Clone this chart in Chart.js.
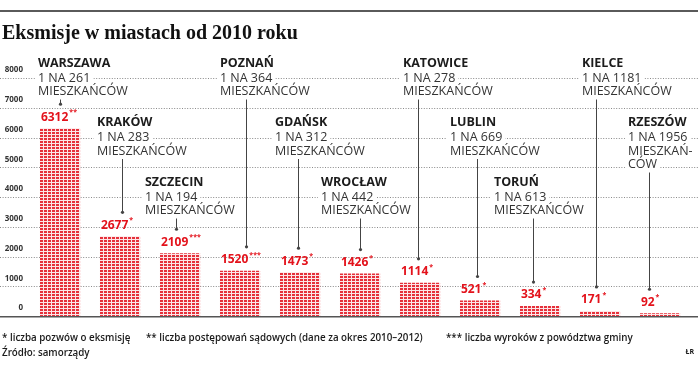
<!DOCTYPE html>
<html>
<head>
<meta charset="utf-8">
<script src="https://cdn.jsdelivr.net/npm/chart.js@4"></script>
<style>
  body { margin: 0; background: #fff; }
  canvas { display: block; }
</style>
</head>
<body>
<canvas id="evictions" width="698" height="365"></canvas>
<script>
const cities = ["WARSZAWA", "KRAKÓW", "SZCZECIN", "POZNAŃ", "GDAŃSK", "WROCŁAW", "KATOWICE", "LUBLIN", "TORUŃ", "KIELCE", "RZESZÓW"];
const evictions = [6312, 2677, 2109, 1520, 1473, 1426, 1114, 521, 334, 171, 92];
const marks = ["**", "*", "***", "***", "*", "*", "*", "*", "*", "*", "*"];
const oneIn = ["261", "283", "194", "364", "312", "442", "278", "669", "613", "1181", "1956"];
const residentLines = [
  ["MIESZKAŃCÓW"], ["MIESZKAŃCÓW"], ["MIESZKAŃCÓW"], ["MIESZKAŃCÓW"], ["MIESZKAŃCÓW"], ["MIESZKAŃCÓW"],
  ["MIESZKAŃCÓW"], ["MIESZKAŃCÓW"], ["MIESZKAŃCÓW"], ["MIESZKAŃCÓW"], ["MIESZKAŃ-", "CÓW"]
];
const yMax = 8000;
const yStep = 1000;

const titleText = "Eksmisje w miastach od 2010 roku";
const notes = [
  "* liczba pozwów o eksmisję",
  "** liczba postępowań sądowych (dane za okres 2010–2012)",
  "*** liczba wyroków z powództwa gminy"
];
const notesX = [2, 146, 446];
const sourceLine = "Źródło: samorządy";

// label layout: which gridline the "1 NA" line sits on, shift from bar left, leader shift from bar centre
const rowValue = [8000, 6000, 4000];
const labelRow = [0, 1, 2, 0, 1, 2, 0, 1, 2, 0, 1];
const labelShift = [-2, -3, -15, 0, -5, -19, 3, -10, -26, 2, -12];
const leaderShift = [0, 2, -4, 6, -2, 0, -2, -3, -7, -4, -11];

const RED = "#e3121b";
const SANS = "'Open Sans', 'Noto Sans', sans-serif";

function makePattern() {
  const c = document.createElement("canvas");
  c.width = 4; c.height = 3;
  const g = c.getContext("2d");
  g.fillStyle = "#e5303a";
  g.fillRect(0, 0, 4, 3);
  g.fillStyle = "rgba(255,255,255,0.88)";
  g.fillRect(3, 0, 1, 3);
  g.fillRect(0, 2, 3, 1);
  return g.createPattern(c, "repeat");
}

const gridPlugin = {
  id: "dottedGrid",
  beforeDatasetsDraw(chart) {
    const ctx = chart.ctx;
    const y = chart.scales.y;
    ctx.save();
    ctx.strokeStyle = "#8a8a8a";
    ctx.lineWidth = 1;
    ctx.setLineDash([1, 1.6]);
    for (let v = yStep; v <= yMax; v += yStep) {
      const py = Math.round(y.getPixelForValue(v)) + 0.5;
      ctx.beginPath();
      ctx.moveTo(0, py);
      ctx.lineTo(chart.width, py);
      ctx.stroke();
    }
    ctx.restore();
  }
};

const labelPlugin = {
  id: "cityLabels",
  afterDraw(chart) {
    const ctx = chart.ctx;
    const y = chart.scales.y;
    const meta = chart.getDatasetMeta(0);
    ctx.save();

    // top rule and title
    ctx.fillStyle = "#5a5a5a";
    ctx.fillRect(0, 10, chart.width, 2);
    ctx.fillStyle = "#111";
    ctx.font = "bold 20px 'Liberation Serif', serif";
    ctx.textBaseline = "alphabetic";
    ctx.textAlign = "left";
    ctx.fillText(titleText, 2, 39);

    // baseline
    const base = y.getPixelForValue(0);
    ctx.fillStyle = "#555";
    ctx.fillRect(0, Math.round(base), chart.width, 1.5);

    ctx.textBaseline = "middle";
    meta.data.forEach((bar, i) => {
      const left = bar.x - bar.width / 2;
      const anchor = y.getPixelForValue(rowValue[labelRow[i]]);
      const tx = left + labelShift[i];
      const lines = [{ t: "1 NA " + oneIn[i], y: anchor }];
      residentLines[i].forEach((t, k) => lines.push({ t: t, y: anchor + 13.5 * (k + 1) }));

      // name
      ctx.font = "bold 12.5px " + SANS;
      ctx.fillStyle = "#1c1c1c";
      ctx.fillText(cities[i], tx, anchor - 15);

      ctx.font = "12.5px " + SANS;
      lines.forEach((ln) => {
        const w = ctx.measureText(ln.t).width;
        ctx.fillStyle = "#fff";
        ctx.fillRect(tx - 3, ln.y - 6, w + 6, 12);
        ctx.fillStyle = "#333";
        ctx.fillText(ln.t, tx, ln.y);
      });

      // leader
      const labelY = bar.y - 11;
      const lx = Math.round(bar.x + leaderShift[i]) + 0.5;
      const y0 = lines[lines.length - 1].y + 8;
      const y1 = labelY - 13;
      ctx.strokeStyle = "#444";
      ctx.lineWidth = 1;
      ctx.beginPath();
      ctx.moveTo(lx, y0);
      ctx.lineTo(lx, y1);
      ctx.stroke();
      ctx.fillStyle = "#444";
      ctx.beginPath();
      ctx.arc(lx, y1, 1.6, 0, Math.PI * 2);
      ctx.fill();

      // value
      ctx.fillStyle = RED;
      ctx.font = "bold 12px " + SANS;
      const num = String(evictions[i]);
      ctx.fillText(num, left + 1, labelY);
      const nw = ctx.measureText(num).width;
      ctx.font = "bold 7px " + SANS;
      ctx.fillText(marks[i], left + 2 + nw, labelY - 5);
    });

    // footer
    ctx.fillStyle = "#1a1a1a";
    ctx.font = "600 9.8px " + SANS;
    ctx.textBaseline = "middle";
    notes.forEach((t, k) => ctx.fillText(t, notesX[k], 338));
    ctx.fillText(sourceLine, 2, 353);
    ctx.font = "bold 7px " + SANS;
    ctx.textAlign = "right";
    ctx.fillText("ŁR", 694, 352);
    ctx.restore();
  }
};

new Chart(document.getElementById("evictions"), {
  type: "bar",
  data: {
    labels: cities,
    datasets: [{
      data: evictions,
      backgroundColor: makePattern(),
      borderWidth: 0,
      categoryPercentage: 1,
      barPercentage: 0.67
    }]
  },
  options: {
    responsive: false,
    animation: false,
    devicePixelRatio: 1,
    layout: { padding: { top: 78, bottom: 49, left: 0, right: 8 } },
    plugins: { legend: { display: false }, tooltip: { enabled: false } },
    scales: {
      x: { display: false },
      y: {
        min: 0,
        max: yMax,
        afterFit: (scale) => { scale.width = 30; },
        border: { display: false },
        grid: { display: false, drawTicks: false },
        ticks: {
          stepSize: yStep,
          padding: 7,
          labelOffset: -8,
          color: "#333",
          callback: (v) => String(v),
          font: { family: "'Open Sans', sans-serif", size: 8, weight: "bold" }
        }
      }
    }
  },
  plugins: [gridPlugin, labelPlugin]
});
</script>
</body>
</html>
